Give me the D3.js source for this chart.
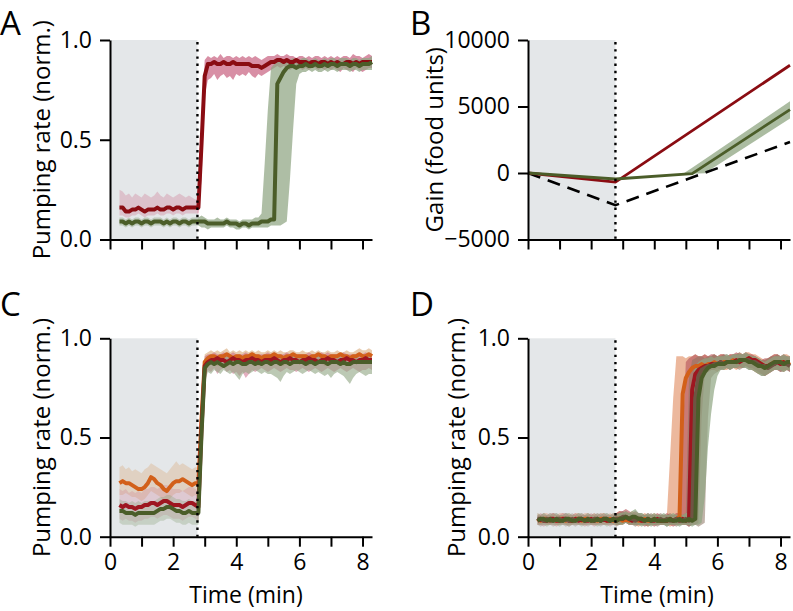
<!DOCTYPE html>
<html>
<head>
<meta charset="utf-8">
<script src="https://cdn.jsdelivr.net/npm/d3@7"></script>
<style>
  html, body { margin: 0; padding: 0; background: #fff; }
  svg { display: block; }
</style>
</head>
<body>
<svg id="chart" width="793" height="611"></svg>
<script>
// ---------------- DATA ----------------
const stimTime = 2.77;           // end of the shaded (pre-stimulus) period, minutes
const xTicks = [0, 1, 2, 3, 4, 5, 6, 7, 8];
const xTickLabels = [0, 2, 4, 6, 8];
const rateTicks = [0, 0.5, 1.0];
const gainTicks = [-5000, 0, 5000, 10000];

// common sampling times (min)
const T = [0.3,0.4,0.5,0.6,0.7,0.8,0.9,1.0,1.1,1.2,
           1.3,1.4,1.5,1.6,1.7,1.8,1.9,2.0,2.1,2.2,
           2.3,2.4,2.5,2.6,2.7,2.8,2.9,3.0,3.1,3.2,
           3.3,3.4,3.5,3.6,3.7,3.8,3.9,4.0,4.1,4.2,
           4.3,4.4,4.5,4.6,4.7,4.8,4.9,5.0,5.1,5.2,
           5.3,5.4,5.5,5.6,5.7,5.8,5.9,6.0,6.1,6.2,
           6.3,6.4,6.5,6.6,6.7,6.8,6.9,7.0,7.1,7.2,
           7.3,7.4,7.5,7.6,7.7,7.8,7.9,8.0,8.1,8.2,8.3];

// ---- Panel A ----
const aRedMean = [0.16,0.16,0.14,0.14,0.15,0.15,0.16,0.15,0.14,0.15,
  0.15,0.15,0.16,0.15,0.15,0.16,0.16,0.15,0.16,0.16,
  0.15,0.16,0.16,0.16,0.16, 0.16, 0.48, 0.82, 0.88,
  0.88,0.89,0.88,0.88,0.89,0.88,0.88,0.89,0.88,0.88,
  0.88,0.88,0.88,0.87,0.87,0.87,0.86,0.87,0.88,0.89,
  0.89,0.90,0.90,0.89,0.90,0.89,0.89,0.90,0.89,0.89,
  0.89,0.88,0.89,0.89,0.88,0.89,0.89,0.88,0.89,0.88,
  0.89,0.88,0.88,0.89,0.89,0.88,0.89,0.88,0.89,0.89,
  0.89,0.89];
const aRedHi = [0.25,0.24,0.22,0.23,0.21,0.23,0.22,0.21,0.23,0.22,
  0.21,0.22,0.24,0.22,0.21,0.23,0.22,0.21,0.22,0.23,
  0.22,0.21,0.22,0.21,0.20, 0.20, 0.62, 0.90, 0.92,
  0.91,0.92,0.91,0.93,0.91,0.92,0.92,0.91,0.92,0.91,
  0.92,0.91,0.92,0.91,0.92,0.91,0.90,0.91,0.92,0.92,
  0.92,0.93,0.92,0.92,0.93,0.92,0.92,0.91,0.92,0.92,
  0.91,0.92,0.91,0.92,0.92,0.91,0.92,0.91,0.92,0.91,
  0.92,0.91,0.92,0.92,0.91,0.93,0.92,0.92,0.91,0.92,
  0.93,0.92];
const aRedLo = [0.12,0.12,0.11,0.11,0.12,0.12,0.13,0.12,0.11,0.12,
  0.12,0.12,0.13,0.12,0.12,0.13,0.13,0.12,0.13,0.13,
  0.12,0.13,0.13,0.13,0.13, 0.13, 0.30, 0.72, 0.80,
  0.81,0.83,0.80,0.82,0.83,0.81,0.82,0.80,0.83,0.82,
  0.83,0.82,0.84,0.82,0.81,0.83,0.82,0.83,0.84,0.85,
  0.86,0.87,0.86,0.87,0.86,0.85,0.86,0.87,0.86,0.85,
  0.86,0.85,0.86,0.86,0.85,0.86,0.85,0.86,0.85,0.86,
  0.85,0.84,0.86,0.85,0.85,0.84,0.86,0.85,0.84,0.85,
  0.86,0.86];
const aGreenMean = [0.09,0.09,0.08,0.09,0.08,0.09,0.09,0.08,0.09,0.09,
  0.08,0.09,0.09,0.09,0.08,0.09,0.08,0.09,0.09,0.08,
  0.09,0.09,0.08,0.09,0.09, 0.09,
  0.09,0.09,0.08,0.08,0.08,0.08,0.08,0.08,0.09,0.08,
  0.08,0.08,0.07,0.08,0.08,0.07,0.08,0.08,0.08,0.09,
  0.09,0.09,0.10,0.10, 0.78,0.81,0.84,0.86,
  0.87,0.87,0.86,0.87,0.87,0.88,0.87,0.87,0.88,0.87,
  0.87,0.88,0.87,0.88,0.88,0.87,0.88,0.88,0.88,0.87,
  0.88,0.88,0.87,0.88,0.88,0.88,0.89];
const aGreenHi = [0.11,0.11,0.10,0.11,0.10,0.11,0.11,0.10,0.11,0.11,
  0.10,0.11,0.11,0.11,0.10,0.11,0.10,0.11,0.11,0.10,
  0.11,0.11,0.10,0.11,0.11, 0.11,
  0.12,0.11,0.10,0.10,0.10,0.11,0.10,0.10,0.11,0.10,
  0.10,0.10,0.09,0.10,0.10,0.10,0.10,0.11,0.11,0.13,
  0.38,0.65,0.86,0.88, 0.89,0.89,0.90,0.90,
  0.90,0.91,0.90,0.90,0.91,0.91,0.90,0.90,0.91,0.90,
  0.90,0.91,0.90,0.91,0.91,0.90,0.91,0.91,0.91,0.90,
  0.91,0.91,0.90,0.91,0.91,0.91,0.92];
const aGreenLo = [0.07,0.07,0.06,0.07,0.06,0.07,0.07,0.06,0.07,0.07,
  0.06,0.07,0.07,0.07,0.06,0.07,0.06,0.07,0.07,0.06,
  0.07,0.07,0.06,0.07,0.07, 0.07,
  0.06,0.06,0.05,0.06,0.06,0.06,0.06,0.06,0.07,0.06,
  0.06,0.05,0.05,0.06,0.06,0.05,0.06,0.06,0.06,0.06,
  0.06,0.06,0.07,0.07, 0.07,0.07,0.08,0.09,
  0.30,0.55,0.78,0.83,0.84,0.84,0.85,0.84,0.85,0.84,
  0.84,0.85,0.84,0.85,0.85,0.84,0.85,0.85,0.85,0.84,
  0.85,0.85,0.84,0.85,0.85,0.85,0.85];

// ---- Panel B (gain, food units) ----
const bRedTime = [0, 2.77, 8.3];
const bRedGain = [0, -680, 8100];
const bGreenTime = [0, 2.77, 5.2, 8.3];
const bGreenGain = [0, -450, -50, 4770];
const bBandTime = [4.9, 5.2, 5.6, 8.3];
const bBandHi = [-80, 400, 1040, 5390];
const bBandLo = [-80, -50, -20, 4090];
const bRefTime = [0, 2.77, 8.3];
const bRefGain = [0, -2420, 2330];

// ---- Panel C ----
const cOrMean = [0.27,0.28,0.27,0.27,0.26,0.25,0.24,0.24,0.25,0.27,
  0.30,0.29,0.27,0.26,0.24,0.23,0.25,0.27,0.28,0.28,
  0.29,0.28,0.27,0.26,0.27, 0.27, 0.60, 0.88,
  0.90,0.91,0.91,0.90,0.91,0.91,0.92,0.91,0.90,0.91,
  0.91,0.90,0.91,0.91,0.92,0.91,0.91,0.90,0.91,0.91,
  0.91,0.92,0.91,0.91,0.90,0.91,0.91,0.92,0.91,0.91,
  0.91,0.91,0.90,0.91,0.91,0.92,0.91,0.91,0.90,0.91,
  0.91,0.91,0.92,0.91,0.91,0.90,0.91,0.91,0.92,0.91,
  0.91,0.92,0.91];
const cOrHi = [0.35,0.36,0.34,0.35,0.33,0.34,0.33,0.32,0.34,0.35,
  0.37,0.36,0.35,0.34,0.33,0.32,0.34,0.36,0.38,0.36,
  0.37,0.36,0.35,0.34,0.35, 0.35, 0.70, 0.92,
  0.93,0.94,0.93,0.94,0.93,0.94,0.95,0.93,0.94,0.93,
  0.94,0.93,0.94,0.93,0.94,0.93,0.94,0.93,0.93,0.94,
  0.93,0.94,0.93,0.94,0.93,0.93,0.94,0.94,0.93,0.93,
  0.94,0.93,0.93,0.94,0.93,0.94,0.93,0.93,0.94,0.93,
  0.93,0.94,0.93,0.93,0.94,0.93,0.93,0.94,0.95,0.94,
  0.94,0.95,0.94];
const cOrLo = [0.21,0.21,0.22,0.21,0.20,0.20,0.19,0.18,0.19,0.21,
  0.23,0.22,0.21,0.20,0.18,0.17,0.19,0.21,0.22,0.22,
  0.23,0.22,0.21,0.20,0.21, 0.20, 0.50, 0.84,
  0.86,0.87,0.87,0.86,0.87,0.86,0.88,0.87,0.86,0.87,
  0.87,0.86,0.87,0.87,0.88,0.87,0.86,0.86,0.87,0.87,
  0.87,0.88,0.87,0.86,0.86,0.87,0.87,0.88,0.87,0.87,
  0.87,0.87,0.86,0.87,0.87,0.88,0.87,0.86,0.86,0.87,
  0.87,0.87,0.88,0.87,0.86,0.86,0.87,0.87,0.88,0.87,
  0.87,0.88,0.87];
const cRedMean = [0.16,0.15,0.16,0.15,0.15,0.14,0.15,0.15,0.16,0.16,
  0.17,0.17,0.16,0.17,0.18,0.18,0.17,0.16,0.16,0.16,
  0.15,0.16,0.17,0.17,0.16, 0.15, 0.55, 0.86,
  0.88,0.89,0.89,0.90,0.89,0.89,0.88,0.89,0.90,0.89,
  0.89,0.88,0.89,0.89,0.90,0.89,0.89,0.88,0.89,0.89,
  0.89,0.90,0.89,0.88,0.89,0.89,0.90,0.89,0.89,0.88,
  0.89,0.89,0.90,0.89,0.89,0.88,0.89,0.89,0.90,0.89,
  0.89,0.88,0.89,0.89,0.90,0.89,0.89,0.88,0.89,0.89,
  0.90,0.89,0.89];
const cRedHi = [0.24,0.23,0.24,0.22,0.23,0.22,0.23,0.22,0.24,0.24,
  0.25,0.25,0.24,0.25,0.26,0.26,0.25,0.24,0.24,0.24,
  0.23,0.24,0.25,0.25,0.24, 0.23, 0.62, 0.91,
  0.92,0.92,0.93,0.92,0.92,0.93,0.92,0.92,0.93,0.92,
  0.92,0.92,0.93,0.92,0.93,0.92,0.92,0.92,0.92,0.93,
  0.92,0.93,0.92,0.92,0.92,0.93,0.92,0.92,0.92,0.92,
  0.92,0.92,0.93,0.92,0.92,0.92,0.93,0.92,0.93,0.92,
  0.92,0.92,0.92,0.93,0.92,0.92,0.92,0.92,0.93,0.92,
  0.93,0.92,0.92];
const cRedLo = [0.09,0.08,0.09,0.08,0.08,0.07,0.08,0.08,0.09,0.09,
  0.10,0.10,0.09,0.10,0.11,0.11,0.10,0.09,0.09,0.09,
  0.08,0.09,0.10,0.10,0.09, 0.08, 0.45, 0.80,
  0.84,0.83,0.85,0.82,0.84,0.85,0.83,0.84,0.82,0.83,
  0.81,0.83,0.80,0.82,0.84,0.83,0.84,0.85,0.84,0.83,
  0.84,0.85,0.84,0.83,0.84,0.85,0.84,0.84,0.83,0.84,
  0.85,0.84,0.83,0.84,0.85,0.84,0.83,0.84,0.85,0.84,
  0.83,0.84,0.85,0.84,0.83,0.84,0.85,0.84,0.83,0.84,
  0.84,0.85,0.84];
const cGreenMean = [0.13,0.13,0.12,0.12,0.12,0.11,0.12,0.12,0.12,0.12,
  0.12,0.12,0.13,0.14,0.14,0.15,0.15,0.14,0.13,0.13,
  0.12,0.12,0.13,0.12,0.12, 0.12, 0.52, 0.85,
  0.87,0.88,0.87,0.88,0.87,0.86,0.87,0.88,0.87,0.88,
  0.88,0.87,0.87,0.88,0.88,0.87,0.88,0.87,0.88,0.88,
  0.87,0.88,0.88,0.87,0.88,0.88,0.87,0.88,0.88,0.88,
  0.88,0.87,0.88,0.88,0.87,0.88,0.88,0.88,0.87,0.88,
  0.88,0.88,0.87,0.88,0.87,0.87,0.88,0.88,0.88,0.88,
  0.88,0.88,0.88];
const cGreenHi = [0.19,0.18,0.18,0.17,0.18,0.17,0.18,0.17,0.18,0.18,
  0.18,0.18,0.19,0.20,0.20,0.21,0.21,0.20,0.19,0.19,
  0.18,0.18,0.19,0.18,0.18, 0.17, 0.60, 0.90,
  0.91,0.91,0.90,0.91,0.91,0.90,0.91,0.91,0.90,0.91,
  0.90,0.91,0.91,0.90,0.91,0.91,0.90,0.91,0.91,0.90,
  0.91,0.91,0.90,0.91,0.91,0.90,0.91,0.91,0.91,0.90,
  0.91,0.90,0.91,0.91,0.90,0.91,0.91,0.90,0.91,0.91,
  0.90,0.91,0.91,0.90,0.91,0.90,0.91,0.91,0.90,0.91,
  0.91,0.91,0.90];
const cGreenLo = [0.07,0.06,0.06,0.06,0.06,0.05,0.06,0.06,0.06,0.06,
  0.06,0.06,0.07,0.08,0.08,0.09,0.09,0.08,0.07,0.07,
  0.06,0.06,0.07,0.06,0.06, 0.06, 0.40, 0.78,
  0.83,0.82,0.84,0.83,0.82,0.84,0.83,0.82,0.83,0.81,
  0.79,0.82,0.83,0.82,0.83,0.84,0.83,0.82,0.83,0.82,
  0.82,0.81,0.80,0.78,0.81,0.83,0.82,0.83,0.84,0.83,
  0.82,0.83,0.84,0.83,0.82,0.83,0.82,0.81,0.82,0.80,
  0.82,0.83,0.82,0.81,0.79,0.77,0.80,0.82,0.83,0.82,
  0.81,0.82,0.82];

// ---- Panel D ----
const dOrMean = [0.09,0.08,0.09,0.09,0.08,0.09,0.08,0.09,0.09,0.08,
  0.09,0.08,0.09,0.09,0.08,0.09,0.09,0.08,0.09,0.08,
  0.09,0.09,0.08,0.09,0.08,0.09,0.09,0.08,0.09,0.08,
  0.09,0.09,0.08,0.08,0.09,0.08,0.08,0.09,0.08,0.08,
  0.08,0.08,0.09,0.08,0.09,0.10, 0.72,0.80,0.83,0.85,
  0.86,0.86,0.87,0.86,0.87,0.87,0.88,0.87,0.87,0.88,
  0.88,0.88,0.89,0.88,0.89,0.89,0.89,0.90,0.89,0.89,
  0.88,0.87,0.86,0.86,0.87,0.88,0.88,0.88,0.88,0.87,
  0.88];
const dOrHi = [0.12,0.11,0.12,0.12,0.11,0.12,0.11,0.12,0.12,0.11,
  0.12,0.11,0.12,0.12,0.11,0.12,0.12,0.11,0.12,0.11,
  0.12,0.12,0.11,0.12,0.11,0.12,0.13,0.12,0.13,0.12,
  0.13,0.12,0.11,0.11,0.12,0.11,0.11,0.12,0.11,0.11,
  0.11,0.11,0.40,0.70,0.91,
  0.91,0.91,0.90,0.91,0.91,0.92,0.91,0.91,0.92,0.91,
  0.91,0.92,0.91,0.92,0.92,0.91,0.92,0.92,0.92,0.93,
  0.92,0.93,0.93,0.92,0.92,0.91,0.90,0.89,0.90,0.91,
  0.92,0.92,0.91,0.92,0.92,0.91];
const dOrLo = [0.06,0.06,0.07,0.06,0.06,0.07,0.06,0.06,0.07,0.06,
  0.06,0.06,0.07,0.06,0.06,0.06,0.07,0.06,0.06,0.06,
  0.07,0.06,0.06,0.07,0.06,0.06,0.06,0.06,0.07,0.06,
  0.06,0.06,0.05,0.06,0.06,0.05,0.06,0.06,0.06,0.06,
  0.06,0.06,0.05,0.06,0.06,0.06,0.06,0.06,
  0.07,0.60,0.80,0.83,
  0.83,0.84,0.83,0.84,0.84,0.83,0.85,0.84,0.84,0.85,
  0.85,0.84,0.85,0.85,0.86,0.85,0.84,0.83,0.82,0.82,
  0.81,0.82,0.83,0.84,0.84,0.84,0.83,0.84,0.84];
const dRedMean = [0.08,0.09,0.08,0.08,0.09,0.09,0.08,0.08,0.09,0.09,
  0.08,0.08,0.09,0.08,0.09,0.08,0.08,0.09,0.08,0.09,
  0.08,0.09,0.08,0.08,0.09,0.08,0.09,0.09,0.10,0.09,
  0.08,0.09,0.09,0.08,0.08,0.09,0.08,0.08,0.09,0.08,
  0.08,0.08,0.09,0.08,0.09,0.08,0.09,0.08,0.09,
  0.74, 0.82,0.84,0.85,
  0.86,0.86,0.87,0.87,0.87,0.88,0.87,0.88,0.88,0.88,
  0.89,0.88,0.89,0.89,0.90,0.89,0.89,0.88,0.87,0.86,
  0.86,0.87,0.87,0.88,0.87,0.88,0.87,0.87];
const dRedHi = [0.11,0.12,0.11,0.11,0.12,0.12,0.11,0.11,0.12,0.12,
  0.11,0.11,0.12,0.11,0.12,0.11,0.11,0.12,0.11,0.12,
  0.11,0.12,0.11,0.11,0.12,0.12,0.13,0.13,0.14,0.13,
  0.12,0.13,0.12,0.11,0.11,0.12,0.11,0.11,0.12,0.11,
  0.11,0.12,0.11,0.11,0.12,
  0.12,0.50,0.88,
  0.90,0.91,0.92,0.91,0.91,0.92,0.91,0.92,0.92,0.91,
  0.92,0.92,0.91,0.92,0.92,0.93,0.92,0.92,0.93,0.92,
  0.92,0.91,0.90,0.89,0.90,0.90,0.91,0.92,0.92,0.91,
  0.92,0.91,0.91];
const dRedLo = [0.06,0.06,0.05,0.06,0.06,0.06,0.05,0.06,0.06,0.06,
  0.05,0.06,0.06,0.06,0.06,0.05,0.06,0.06,0.05,0.06,
  0.06,0.06,0.06,0.05,0.06,0.06,0.06,0.07,0.07,0.06,
  0.06,0.06,0.06,0.06,0.05,0.06,0.06,0.05,0.06,0.06,
  0.06,0.06,0.06,0.05,0.06,0.06,0.06,0.06,0.05,0.06,0.06,
  0.07,0.60,0.82,
  0.83,0.84,0.84,0.85,0.84,0.85,0.85,0.84,0.85,0.85,
  0.86,0.85,0.86,0.85,0.85,0.84,0.83,0.82,0.81,0.82,
  0.83,0.84,0.84,0.83,0.84,0.84,0.83];
const dBrMean = [0.09,0.09,0.08,0.09,0.08,0.08,0.09,0.09,0.08,0.09,
  0.08,0.09,0.08,0.09,0.09,0.08,0.09,0.08,0.09,0.09,
  0.08,0.09,0.09,0.08,0.09,0.09,0.09,0.10,0.10,0.09,
  0.09,0.08,0.09,0.09,0.08,0.09,0.08,0.09,0.08,0.09,
  0.08,0.09,0.08,0.08,0.09,0.08,0.08,0.09,0.08,0.09,
  0.70, 0.81,0.84,0.85,
  0.86,0.86,0.87,0.87,0.88,0.87,0.88,0.88,0.88,0.88,
  0.89,0.89,0.89,0.89,0.88,0.88,0.87,0.86,0.86,0.85,
  0.86,0.87,0.88,0.88,0.87,0.87,0.86];
const dBrHi = [0.11,0.11,0.12,0.11,0.11,0.12,0.12,0.11,0.11,0.12,
  0.11,0.12,0.11,0.12,0.11,0.11,0.12,0.11,0.12,0.11,
  0.12,0.11,0.12,0.11,0.11,0.12,0.12,0.13,0.12,0.12,
  0.12,0.11,0.12,0.12,0.11,0.11,0.12,0.11,0.11,0.12,
  0.11,0.11,0.12,0.11,0.11,0.12,0.11,
  0.12,0.80,0.89,
  0.90,0.91,0.91,0.90,0.91,0.91,0.92,0.91,0.91,0.92,
  0.92,0.91,0.92,0.92,0.93,0.92,0.92,0.92,0.91,0.91,
  0.90,0.89,0.89,0.90,0.91,0.91,0.92,0.91,0.91,0.91,0.90];
const dBrLo = [0.06,0.05,0.06,0.06,0.06,0.05,0.06,0.06,0.06,0.05,
  0.06,0.06,0.05,0.06,0.06,0.06,0.05,0.06,0.06,0.06,
  0.05,0.06,0.06,0.06,0.06,0.05,0.06,0.06,0.07,0.06,
  0.06,0.05,0.06,0.06,0.06,0.05,0.06,0.06,0.05,0.06,
  0.06,0.05,0.06,0.06,0.05,0.06,0.06,0.06,0.05,0.06,0.06,0.05,0.06,
  0.07,0.60,0.80,
  0.82,0.83,0.84,0.84,0.85,0.84,0.85,0.85,0.84,0.85,
  0.85,0.84,0.84,0.83,0.82,0.81,0.81,0.82,0.83,0.84,
  0.84,0.83,0.83,0.84,0.83];
const dGreenMean = [0.08,0.09,0.09,0.08,0.09,0.08,0.09,0.08,0.08,0.09,
  0.09,0.08,0.08,0.09,0.09,0.08,0.09,0.08,0.08,0.09,
  0.08,0.09,0.09,0.08,0.09,0.08,0.09,0.09,0.10,0.09,
  0.10,0.10,0.09,0.09,0.08,0.09,0.08,0.09,0.08,0.08,
  0.08,0.08,0.09,0.08,0.08,0.09,0.08,0.08,0.09,0.08,0.09,
  0.70, 0.80,0.83,0.85,
  0.86,0.86,0.87,0.87,0.87,0.88,0.88,0.88,0.88,0.89,
  0.89,0.89,0.88,0.88,0.87,0.86,0.86,0.85,0.86,0.87,
  0.88,0.88,0.88,0.87,0.88,0.88];
const dGreenHi = [0.12,0.11,0.12,0.11,0.12,0.11,0.12,0.11,0.11,0.12,
  0.12,0.11,0.11,0.12,0.12,0.11,0.12,0.11,0.11,0.12,
  0.11,0.12,0.12,0.11,0.12,0.11,0.12,0.12,0.13,0.12,
  0.13,0.14,0.12,0.12,0.11,0.12,0.11,0.12,0.11,0.11,
  0.12,0.11,0.11,0.12,0.11,0.12,0.11,0.12,
  0.12,0.80,0.86,
  0.88,0.89,0.90,0.90,0.91,0.90,0.91,0.91,0.91,0.92,
  0.91,0.92,0.92,0.92,0.92,0.93,0.92,0.91,0.91,0.90,
  0.89,0.88,0.89,0.90,0.91,0.91,0.91,0.92,0.91,0.91];
const dGreenLo = [0.06,0.06,0.06,0.05,0.06,0.06,0.06,0.05,0.06,0.06,
  0.05,0.06,0.06,0.06,0.05,0.06,0.06,0.06,0.06,0.05,
  0.06,0.06,0.05,0.06,0.06,0.06,0.06,0.06,0.07,0.06,
  0.06,0.06,0.06,0.05,0.06,0.06,0.05,0.06,0.06,0.06,
  0.06,0.05,0.06,0.06,0.06,0.05,0.06,0.06,0.06,0.05,0.06,0.06,
  0.07,0.20,0.45,0.62,0.74,0.81,0.84,
  0.84,0.85,0.84,0.85,0.85,0.86,0.85,0.85,0.84,0.84,
  0.83,0.82,0.81,0.81,0.82,0.83,0.84,0.84,0.84,0.83,0.84,0.84];

// sanity check of array lengths
const arrs = {aRedMean,aRedHi,aRedLo,aGreenMean,aGreenHi,aGreenLo,cOrMean,cOrHi,cOrLo,cRedMean,cRedHi,cRedLo,
  cGreenMean,cGreenHi,cGreenLo,dOrMean,dOrHi,dOrLo,dRedMean,dRedHi,dRedLo,dBrMean,dBrHi,dBrLo,dGreenMean,dGreenHi,dGreenLo};
const bad = Object.entries(arrs).filter(([k,v]) => v.length !== T.length).map(([k,v]) => k + ":" + v.length);
if (bad.length) throw new Error("Bad lengths " + bad.join(", "));

// ---------------- DRAWING ----------------
const FONT = "'Open Sans', 'DejaVu Sans', sans-serif";
const C = {
  shade: "#e4e7e9",
  redA: "#8a0c12", redBand: "#c8607f",
  green: "#4b5d29", greenBand: "#8fa582",
  orange: "#d2601a", orangeBand: "#d9aa7c",
  redC: "#9e1620",
  peach: "#e49a74", rosy: "#b9595e",
  brown: "#6e5442", brownBand: "#8c7462"
};
const svg = d3.select("#chart");

const layout = {
  A: {x0: 110, x1: 372, yTop: 40, yBot: 239.5, lx: 0, ly: 35, tx: 246},
  B: {x0: 528, x1: 790, yTop: 40, yBot: 239.5, lx: 410, ly: 35, tx: 657},
  C: {x0: 110, x1: 372, yTop: 338.3, yBot: 536.7, lx: 0, ly: 316, tx: 246},
  D: {x0: 528, x1: 790, yTop: 338.3, yBot: 536.7, lx: 410, ly: 316, tx: 657}
};

function makePanel(key, yDomain, yTicks, yFmt, showXLabels, yTitle, yTitleX) {
  const L = layout[key];
  const x = d3.scaleLinear().domain([0, 8.3]).range([L.x0, L.x1]);
  const y = d3.scaleLinear().domain(yDomain).range([L.yBot, L.yTop]);
  const g = svg.append("g");
  g.append("rect").attr("x", x(0)).attr("y", L.yTop)
    .attr("width", x(stimTime) - x(0)).attr("height", L.yBot - L.yTop)
    .attr("fill", C.shade);
  const pre = "clip-pre-" + key, post = "clip-post-" + key;
  const defs = g.append("defs");
  defs.append("clipPath").attr("id", pre).append("rect")
    .attr("x", x(0) - 5).attr("y", 0).attr("width", x(stimTime) - x(0) + 5).attr("height", 611);
  defs.append("clipPath").attr("id", post).append("rect")
    .attr("x", x(stimTime)).attr("y", 0).attr("width", 400).attr("height", 611);
  const data = g.append("g");
  const top = g.append("g");
  top.append("line").attr("x1", x(stimTime)).attr("x2", x(stimTime))
    .attr("y1", L.yTop + 2).attr("y2", L.yBot)
    .attr("stroke", "#000").attr("stroke-width", 2.4).attr("stroke-dasharray", "2.4,4.8");
  const xa = d3.axisBottom(x).tickValues(xTicks).tickSize(10).tickPadding(7).tickSizeOuter(0)
    .tickFormat(d => showXLabels && xTickLabels.includes(d) ? String(d) : "");
  const ya = d3.axisLeft(y).tickValues(yTicks).tickSize(10).tickPadding(8).tickSizeOuter(0)
    .tickFormat(yFmt);
  const gx = top.append("g").attr("transform", `translate(0,${L.yBot})`).call(xa);
  const gy = top.append("g").attr("transform", `translate(${L.x0},0)`).call(ya);
  [gx, gy].forEach(a => {
    a.selectAll("path.domain").attr("stroke", "#000").attr("stroke-width", 2);
    a.selectAll(".tick line").attr("stroke", "#000").attr("stroke-width", 2);
    a.selectAll("text").attr("fill", "#000").style("font-family", FONT).style("font-size", "23px");
  });
  top.append("text").attr("transform", `translate(${yTitleX},${(L.yTop + L.yBot) / 2}) rotate(-90)`)
    .attr("text-anchor", "middle").style("font-family", FONT).style("font-size", "24px")
    .text(yTitle);
  if (showXLabels) {
    top.append("text").attr("x", L.tx).attr("y", 603)
      .attr("text-anchor", "middle").style("font-family", FONT).style("font-size", "23px")
      .text("Time (min)");
  }
  top.append("text").attr("x", L.lx).attr("y", L.ly)
    .style("font-family", FONT).style("font-size", "33px").text(key);
  return {x, y, data, pre, post};
}

function rows(vals) { return T.map((t, i) => ({t, v: vals[i]})); }
function bandRows(lo, hi) { return T.map((t, i) => ({t, lo: lo[i], hi: hi[i]})); }

function drawBand(P, rowsData, color, opPre, opPost) {
  const area = d3.area().x(d => P.x(d.t)).y0(d => P.y(d.lo)).y1(d => P.y(d.hi));
  P.data.append("path").datum(rowsData).attr("d", area).attr("fill", color)
    .attr("fill-opacity", opPre).attr("clip-path", `url(#${P.pre})`);
  P.data.append("path").datum(rowsData).attr("d", area).attr("fill", color)
    .attr("fill-opacity", opPost).attr("clip-path", `url(#${P.post})`);
}
function drawLine(P, rowsData, color, w) {
  const line = d3.line().x(d => P.x(d.t)).y(d => P.y(d.v));
  P.data.append("path").datum(rowsData).attr("d", line).attr("fill", "none")
    .attr("stroke", color).attr("stroke-width", w).attr("stroke-linejoin", "round");
}

const rateFmt = d3.format(".1f");

// Panel A
const PA = makePanel("A", [0, 1], rateTicks, rateFmt, false, "Pumping rate (norm.)", 50);
drawBand(PA, bandRows(aRedLo, aRedHi), C.redBand, 0.28, 0.7);
drawBand(PA, bandRows(aGreenLo, aGreenHi), C.greenBand, 0.45, 0.72);
drawLine(PA, rows(aRedMean), C.redA, 4);
drawLine(PA, rows(aGreenMean), C.green, 4);

// Panel B
const PB = makePanel("B", [-5000, 10000], gainTicks, d3.format("d"), false, "Gain  (food units)", 443);
{
  const band = bBandTime.map((t, i) => ({t, lo: bBandLo[i], hi: bBandHi[i]}));
  PB.data.append("path").datum(band)
    .attr("d", d3.area().x(d => PB.x(d.t)).y0(d => PB.y(d.lo)).y1(d => PB.y(d.hi)))
    .attr("fill", C.greenBand).attr("fill-opacity", 0.75);
  const ln = d3.line().x(d => PB.x(d.t)).y(d => PB.y(d.v));
  PB.data.append("path").datum(bRefTime.map((t, i) => ({t, v: bRefGain[i]}))).attr("d", ln)
    .attr("fill", "none").attr("stroke", "#000").attr("stroke-width", 2.6).attr("stroke-dasharray", "13,8");
  PB.data.append("path").datum(bRedTime.map((t, i) => ({t, v: bRedGain[i]}))).attr("d", ln)
    .attr("fill", "none").attr("stroke", C.redA).attr("stroke-width", 2.8);
  PB.data.append("path").datum(bGreenTime.map((t, i) => ({t, v: bGreenGain[i]}))).attr("d", ln)
    .attr("fill", "none").attr("stroke", C.green).attr("stroke-width", 2.8);
}

// Panel C
const PC = makePanel("C", [0, 1], rateTicks, rateFmt, true, "Pumping rate (norm.)", 50);
drawBand(PC, bandRows(cOrLo, cOrHi), C.orangeBand, 0.35, 0.6);
drawBand(PC, bandRows(cRedLo, cRedHi), C.redBand, 0.22, 0.5);
drawBand(PC, bandRows(cGreenLo, cGreenHi), C.greenBand, 0.35, 0.6);
drawLine(PC, rows(cOrMean), C.orange, 4);
drawLine(PC, rows(cRedMean), C.redC, 4);
drawLine(PC, rows(cGreenMean), C.green, 4);

// Panel D
const PD = makePanel("D", [0, 1], rateTicks, rateFmt, true, "Pumping rate (norm.)", 465);
drawBand(PD, bandRows(dOrLo, dOrHi), C.peach, 0.4, 0.7);
drawBand(PD, bandRows(dRedLo, dRedHi), C.rosy, 0.3, 0.65);
drawBand(PD, bandRows(dBrLo, dBrHi), C.brownBand, 0.3, 0.55);
drawBand(PD, bandRows(dGreenLo, dGreenHi), C.greenBand, 0.4, 0.7);
drawLine(PD, rows(dOrMean), C.orange, 4);
drawLine(PD, rows(dRedMean), C.redC, 4);
drawLine(PD, rows(dBrMean), C.brown, 4);
drawLine(PD, rows(dGreenMean), C.green, 4);
</script>
</body>
</html>
